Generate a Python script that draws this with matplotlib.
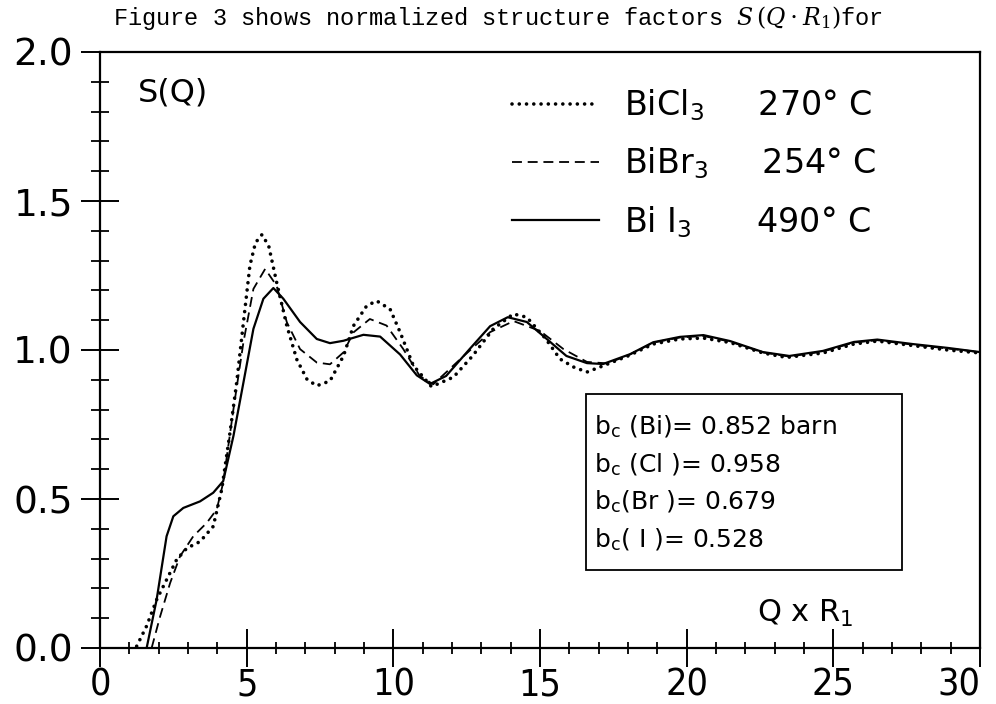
import matplotlib
matplotlib.use("Agg")
import matplotlib.pyplot as plt
from matplotlib.patches import Rectangle
from matplotlib.ticker import MultipleLocator

plt.rcParams['font.family'] = ['DejaVu Sans']
plt.rcParams['mathtext.fontset'] = 'dejavuserif'

# ---- data: normalized structure factor S(Q*R1) ----
q_bii3 = [1.59, 1.93, 2.27, 2.5, 2.84, 3.41, 3.86, 4.2, 4.55, 4.89, 5.23, 5.57,
          5.91, 6.25, 6.82, 7.39, 7.84, 8.3, 8.98, 9.55, 10.23, 10.8, 11.25,
          11.8, 12.6, 13.3, 13.9, 14.55, 15.23, 15.9, 16.6, 17.15, 18.07, 18.86,
          19.77, 20.57, 21.48, 22.6, 23.5, 24.65, 25.7, 26.5, 27.7, 28.9, 30.0]
s_bii3 = [0.0, 0.162, 0.375, 0.442, 0.47, 0.492, 0.521, 0.56, 0.712, 0.891,
          1.071, 1.172, 1.208, 1.172, 1.094, 1.037, 1.023, 1.031, 1.051, 1.045,
          0.985, 0.915, 0.886, 0.913, 1.003, 1.08, 1.11, 1.094, 1.037, 0.98,
          0.956, 0.953, 0.986, 1.026, 1.044, 1.05, 1.03, 0.993, 0.98, 0.997,
          1.027, 1.035, 1.02, 1.007, 0.993]

q_bicl3 = [1.25, 1.59, 1.93, 2.27, 2.61, 2.96, 3.41, 3.86, 4.15, 4.43, 4.66,
           4.89, 5.11, 5.3, 5.52, 5.75, 6.02, 6.37, 6.71, 7.06, 7.39, 7.84, 8.3,
           8.64, 9.09, 9.43, 9.89, 10.23, 10.68, 11.3, 12.05, 12.7, 13.4, 14.09,
           14.55, 15.2, 15.68, 16.14, 16.6, 17.05, 18.0, 18.86, 19.77, 20.57,
           21.48, 22.6, 23.4, 24.65, 25.7, 26.5, 27.7, 28.9, 30.0]
s_bicl3 = [0.006, 0.074, 0.162, 0.229, 0.296, 0.335, 0.357, 0.408, 0.532, 0.722,
           0.891, 1.093, 1.283, 1.36, 1.387, 1.35, 1.228, 1.081, 0.968, 0.901,
           0.88, 0.896, 0.98, 1.081, 1.148, 1.165, 1.137, 1.06, 0.948, 0.877,
           0.909, 0.98, 1.07, 1.121, 1.11, 1.037, 0.97, 0.943, 0.926, 0.943,
           0.98, 1.02, 1.037, 1.04, 1.025, 0.99, 0.975, 0.99, 1.02, 1.03, 1.015,
           1.0, 0.99]

q_bibr3 = [1.76, 2.05, 2.39, 2.73, 3.18, 3.64, 3.98, 4.2, 4.55, 4.89, 5.23,
           5.63, 6.02, 6.37, 6.82, 7.39, 7.84, 8.3, 8.64, 9.2, 9.77, 10.34, 10.9,
           11.36, 12.4, 13.3, 14.1, 15.0, 15.8, 16.6, 17.3, 18.07, 18.86, 19.77,
           20.57, 21.48, 22.6, 23.5, 24.65, 25.7, 26.5, 27.7, 28.9, 30.0]
s_bibr3 = [0.0, 0.106, 0.218, 0.308, 0.375, 0.42, 0.465, 0.555, 0.802, 1.026,
           1.205, 1.272, 1.216, 1.093, 1.003, 0.958, 0.952, 0.992, 1.059, 1.104,
           1.082, 1.003, 0.913, 0.885, 0.98, 1.06, 1.097, 1.064, 1.003, 0.96,
           0.955, 0.985, 1.025, 1.042, 1.047, 1.028, 0.992, 0.978, 0.995, 1.025,
           1.033, 1.018, 1.005, 0.993]

series_labels = [r"BiCl$_\mathregular{3}$     270° C",
                 r"BiBr$_\mathregular{3}$     254° C",
                 r"Bi I$_\mathregular{3}$      490° C"]

x_ticks = [0, 5, 10, 15, 20, 25, 30]
x_tick_labels = ["0", "5", "10", "15", "20", "25", "30"]
y_ticks = [0.0, 0.5, 1.0, 1.5, 2.0]
y_tick_labels = ["0.0", "0.5", "1.0", "1.5", "2.0"]

coherent_lengths = [r"b$_\mathregular{c}$ (Bi)= 0.852 barn",
                    r"b$_\mathregular{c}$ (Cl )= 0.958",
                    r"b$_\mathregular{c}$(Br )= 0.679",
                    r"b$_\mathregular{c}$( I )= 0.528"]

# ---- figure ----
W, H = 996, 704
fig = plt.figure(figsize=(W / 100, H / 100), dpi=100)
fig.patch.set_facecolor("white")


def fx(px):
    return px / W


def fy(py):
    return 1 - py / H


ax = fig.add_axes([fx(100), fy(648), fx(980) - fx(100), fy(52) - fy(648)])
ax.set_xlim(0, 30)
ax.set_ylim(0, 2)

h_dot, = ax.plot(q_bicl3, s_bicl3, color="black", lw=2.6,
                 linestyle=(0, (0.01, 2.0)), dash_capstyle="round",
                 solid_capstyle="round", label=series_labels[0])
h_dash, = ax.plot(q_bibr3, s_bibr3, color="black", lw=1.3,
                  linestyle=(0, (5.5, 3.2)), label=series_labels[1])
h_solid, = ax.plot(q_bii3, s_bii3, color="black", lw=1.6,
                   label=series_labels[2])

for sp in ax.spines.values():
    sp.set_linewidth(1.6)

ax.set_xticks(x_ticks)
ax.set_xticklabels(x_tick_labels)
ax.set_yticks(y_ticks)
ax.set_yticklabels(y_tick_labels)
ax.xaxis.set_minor_locator(MultipleLocator(1))
ax.yaxis.set_minor_locator(MultipleLocator(0.1))

ax.tick_params(axis="y", which="major", direction="inout", length=27,
               width=1.4, pad=6, labelsize=27)
ax.tick_params(axis="y", which="minor", direction="inout", length=13,
               width=1.3)
ax.tick_params(axis="x", which="major", direction="inout", length=28,
               width=1.4, pad=0, labelsize=27)
ax.tick_params(axis="x", which="minor", direction="inout", length=9,
               width=1.3)

for lab in ax.get_xticklabels():
    lab.set_fontstretch("condensed")
ax.get_xticklabels()[-1].set_horizontalalignment("right")

# axis titles inside the frame
fig.text(fx(138), fy(93), "S(Q)", fontsize=23, ha="left", va="center")
fig.text(fx(757), fy(613), r"Q x R$_\mathregular{1}$", fontsize=22,
         ha="left", va="center")

# legend
leg = ax.legend(handles=[h_dot, h_dash, h_solid], loc="upper left",
                bbox_to_anchor=(fx(482), fy(58)), bbox_transform=fig.transFigure,
                frameon=False, fontsize=24, handlelength=2.6,
                handletextpad=0.75, labelspacing=0.68)

# scattering-length box
box = Rectangle((fx(586), fy(570)), fx(902) - fx(586), fy(394) - fy(570),
                transform=fig.transFigure, fill=False, lw=1.3, ec="black")
fig.add_artist(box)
for i, txt in enumerate(coherent_lengths):
    fig.text(fx(594), fy(427 + 37.5 * i), txt, fontsize=18, ha="left",
             va="center")

# running text above the plot
fig.text(0.5, fy(18),
         r"Figure 3 shows normalized structure factors $S\,(Q\cdot R_1)$for",
         fontsize=17, family=["Liberation Mono", "DejaVu Sans Mono"],
         ha="center", va="center")

fig.savefig("out.png", dpi=100, facecolor="white")
